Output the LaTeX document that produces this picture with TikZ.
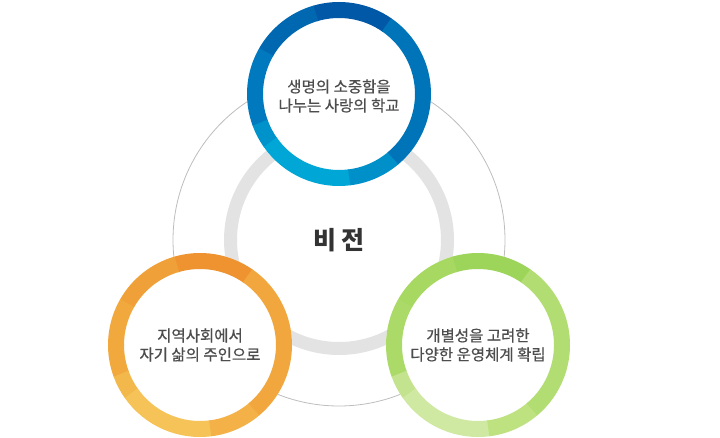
\documentclass[tikz,border=0pt]{standalone}
\usepackage{fontspec}
\setmainfont{Noto Sans CJK KR}
\newfontfamily\labelfont[FakeBold=0.6]{Noto Sans CJK KR}
\usetikzlibrary{positioning}
\definecolor{thingray}{HTML}{BDBDBD}
\definecolor{ringgray}{HTML}{E3E3E3}
\definecolor{labelgray}{HTML}{4D4D4D}
\definecolor{visiongray}{HTML}{333333}

\begin{document}
\begin{tikzpicture}[x=1pt,y=-1pt,
    ringtext/.style={font=\labelfont\fontsize{15.5}{19}\selectfont, text=labelgray, align=center},
    visiontext/.style={font=\fontsize{25}{30}\selectfont\bfseries, text=visiongray},
    ringseg/.style={line width=16pt}]
    \useasboundingbox (0,0) rectangle (720,438);
    %centres
    \coordinate (vision) at (339,240);
    \coordinate (top) at (339,94);
    \coordinate (left) at (200,345);
    \coordinate (right) at (478,345);
    %thin outer circle
    \draw[thingray, line width=0.8pt] (vision) circle (166pt);
    %thick gray ring
    \draw[ringgray, line width=13pt] (vision) circle (108.5pt);
    %blue ring
    \fill[white] (top) circle (92pt);
    \foreach \s/\e/\c in {55/106/0058A6, 106/150/0068B0, 150/200/0079BE,
        200/215/0092CB, 215/277/00A6D6, 277/310/0090C9, 310/415/0074B9}{
        \definecolor{segcol}{HTML}{\c}
        \draw[ringseg, segcol] ([shift={(\s:84pt)}]top) arc[start angle=\s, end angle=\e+0.5, radius=84pt];
    }
    %orange ring
    \fill[white] (left) circle (92pt);
    \foreach \s/\e/\c in {55/106/EE932F, 106/150/F0A038, 150/200/F1A83D,
        200/215/F3B84B, 215/277/F5C358, 277/310/F3B148, 310/415/F1A73D}{
        \definecolor{segcol}{HTML}{\c}
        \draw[ringseg, segcol] ([shift={(\s:84pt)}]left) arc[start angle=\s, end angle=\e+0.5, radius=84pt];
    }
    %green ring
    \fill[white] (right) circle (92pt);
    \foreach \s/\e/\c in {55/106/9DD55A, 106/150/A6D862, 150/200/ABDA69,
        200/215/C3E38F, 215/277/CFE9A3, 277/310/BDE27F, 310/415/B1DD72}{
        \definecolor{segcol}{HTML}{\c}
        \draw[ringseg, segcol] ([shift={(\s:84pt)}]right) arc[start angle=\s, end angle=\e+0.5, radius=84pt];
    }
    %labels
    \node[visiontext] (visionlabel) at (vision) {비 전};
    \node[ringtext] (toplabel) at ([yshift=-2pt]top) {생명의 소중함을\\나누는 사랑의 학교};
    \node[ringtext] (leftlabel) at (left) {지역사회에서\\자기 삶의 주인으로};
    \node[ringtext] (rightlabel) at (right) {개별성을 고려한\\다양한 운영체계 확립};
\end{tikzpicture}
\end{document}
